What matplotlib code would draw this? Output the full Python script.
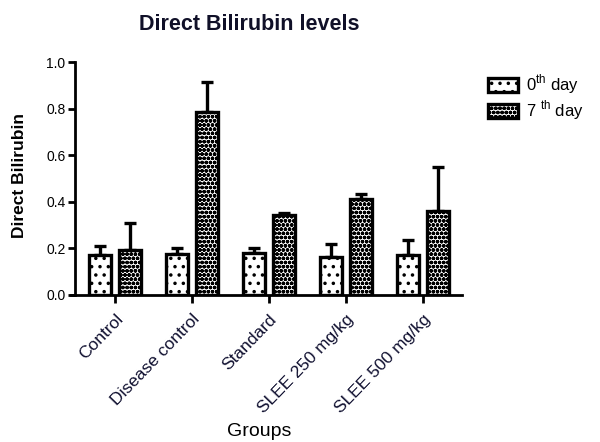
import matplotlib
matplotlib.use("Agg")
import matplotlib.pyplot as plt
import numpy as np
from matplotlib.patches import Patch

plt.rcParams['font.family'] = ['Liberation Sans', 'DejaVu Sans']
plt.rcParams['mathtext.fontset'] = 'custom'
plt.rcParams['mathtext.rm'] = 'Liberation Sans'
plt.rcParams['hatch.linewidth'] = 1.3

groups = ["Control", "Disease control", "Standard", "SLEE 250 mg/kg", "SLEE 500 mg/kg"]
day0_mean = [0.172, 0.176, 0.182, 0.165, 0.172]
day0_sd = [0.038, 0.026, 0.020, 0.055, 0.062]
day7_mean = [0.195, 0.785, 0.345, 0.410, 0.360]
day7_sd = [0.115, 0.128, 0.008, 0.022, 0.188]
yticks = [0.0, 0.2, 0.4, 0.6, 0.8, 1.0]

W, H = 600, 442
fig = plt.figure(figsize=(W / 100, H / 100), dpi=100)
ax = fig.add_axes([71 / W, 1 - 295 / H, (462 - 71) / W, (295 - 62) / H])

x = np.arange(len(groups))
w = 0.28
off = 0.195

def draw_bars(xpos, means, sds, hatch, face):
    # pattern fill
    ax.bar(xpos, means, width=w, color=face, edgecolor='black', hatch=hatch,
           linewidth=0, zorder=2)
    # heavy outline
    ax.bar(xpos, means, width=w, fill=False, edgecolor='black', linewidth=2.4,
           zorder=3)
    ax.errorbar(xpos, means, yerr=[np.zeros(len(sds)), sds], fmt='none',
                ecolor='black', elinewidth=2.4, capsize=4.5, capthick=2.4, zorder=1)

draw_bars(x - off, day0_mean, day0_sd, '..', 'white')
draw_bars(x + off, day7_mean, day7_sd, 'oooo', 'white')

ax.set_xlim(-0.572, 4.51)
ax.set_ylim(0, 1.0)
ax.set_yticks(yticks)
ax.set_yticklabels([f"{v:.1f}" for v in yticks], fontsize=10, color='#202048')
ax.set_xticks(x)
ax.set_xticklabels(groups, rotation=46, ha='right', rotation_mode='anchor',
                   fontsize=12.5, color='#101030')
ax.tick_params(axis='y', direction='out', length=5, width=2, pad=2)
ax.tick_params(axis='x', direction='out', length=6, width=2, pad=6)

for s in ['top', 'right']:
    ax.spines[s].set_visible(False)
for s in ['left', 'bottom']:
    ax.spines[s].set_linewidth(2)
ax.spines['left'].set_position(('outward', -3))

fig.text(20 / W, 1 - 176 / H, "Direct Bilirubin", rotation=90, fontsize=12.5,
         fontweight='bold', ha='center', va='center')
fig.text(259 / W, 1 - 432 / H, "Groups", fontsize=14, ha='center', va='center')
fig.text(249 / W, 1 - 24 / H, "Direct Bilirubin levels", fontsize=15.5,
         fontweight='bold', ha='center', va='center', color='#101028')

handles = [Patch(facecolor='white', edgecolor='black', hatch='..', linewidth=2.4),
           Patch(facecolor='white', edgecolor='black', hatch='oooo', linewidth=2.4)]
fig.legend(handles, [r"0$^{\mathrm{th}}$ day", r"7 $^{\mathrm{th}}$ day"],
           loc='upper left', bbox_to_anchor=(481 / W, 1 - 66 / H), frameon=False,
           fontsize=12, handlelength=1.8, handleheight=0.9, labelspacing=0.15,
           handletextpad=0.5, borderaxespad=0)

fig.savefig("out.png", dpi=100)
